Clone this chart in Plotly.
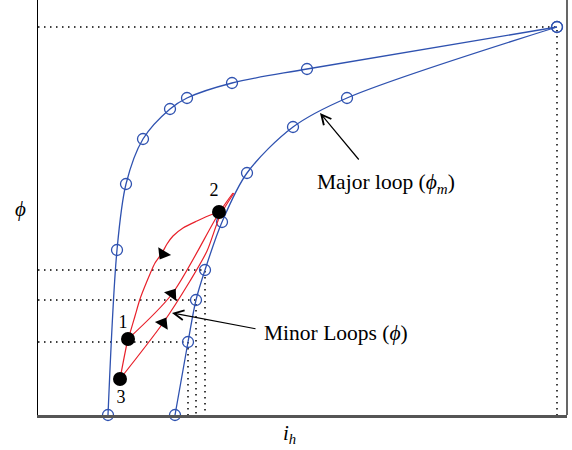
import plotly.graph_objects as go

# ---- data (schematic units: i_h along x, phi along y) ----
major_desc_i = [70, 79, 88, 105, 132, 149, 194, 269, 519]
major_desc_phi = [0, 165, 231, 276, 306, 317, 332, 346, 388]

major_asc_i = [137, 150, 158, 167, 184, 209, 255, 309, 519]
major_asc_phi = [0, 73, 115, 145, 193, 242, 288, 317, 388]

minor_down_i = [181, 175, 159, 145, 135, 129, 124, 117, 112, 107, 102, 97, 92, 90, 82]
minor_down_phi = [203, 201, 194, 187, 179, 171, 162, 152, 141, 129, 116, 99, 82, 76, 36]

minor_up1_i = [90, 134, 181, 195]
minor_up1_phi = [76, 121, 202, 222]

minor_up3_i = [82, 125, 152, 169, 182, 196]
minor_up3_phi = [36, 92, 134, 164, 199, 222]

point_i = [90, 181, 82]
point_phi = [76, 203, 36]
point_labels = ["1", "2", "3"]
label_i = [85, 176, 83]
label_phi = [92, 224, 17]

arrow_i = [125, 134, 125]
arrow_phi = [161, 121, 92]
arrow_angle = [211, 35, 31]

# dotted guide indices on ascending branch and the tip
guide_idx = [1, 2, 3]
tip_i, tip_phi = major_desc_i[-1], major_desc_phi[-1]

BLUE = "#2f52b0"
RED = "#e8202a"
SERIF = "Liberation Serif, Times New Roman, serif"
PHI = "\u03d5"

fig = go.Figure()

dot_line = dict(color="black", width=1.5, dash="1.5px,4.5px")
# dotted guides
fig.add_trace(go.Scatter(x=[0, tip_i, tip_i], y=[tip_phi, tip_phi, 0], mode="lines",
                         line=dot_line, hoverinfo="skip", showlegend=False))
for k in guide_idx:
    xi, yi = major_asc_i[k], major_asc_phi[k]
    fig.add_trace(go.Scatter(x=[0, xi, xi], y=[yi, yi, 0], mode="lines",
                             line=dot_line, hoverinfo="skip", showlegend=False))

# major loop
for xs, ys in [(major_desc_i, major_desc_phi), (major_asc_i, major_asc_phi)]:
    fig.add_trace(go.Scatter(x=xs, y=ys, mode="lines+markers",
                             line=dict(color=BLUE, width=1.3, shape="spline", smoothing=0.9),
                             marker=dict(symbol="circle-open", size=11, color=BLUE,
                                         line=dict(width=1.3, color=BLUE)),
                             cliponaxis=False, showlegend=False))

# minor loops
for xs, ys in [(minor_down_i, minor_down_phi), (minor_up1_i, minor_up1_phi),
               (minor_up3_i, minor_up3_phi)]:
    fig.add_trace(go.Scatter(x=xs, y=ys, mode="lines",
                             line=dict(color=RED, width=1.2, shape="spline", smoothing=0.8),
                             showlegend=False))

# direction arrows
fig.add_trace(go.Scatter(x=arrow_i, y=arrow_phi, mode="markers",
                         marker=dict(symbol="triangle-up", size=13, color="black",
                                     angle=arrow_angle, line=dict(width=0)),
                         showlegend=False))

# turning points
fig.add_trace(go.Scatter(x=point_i, y=point_phi, mode="markers",
                         marker=dict(symbol="circle", size=14, color="black"),
                         showlegend=False))
fig.add_trace(go.Scatter(x=label_i, y=label_phi, mode="text", text=point_labels,
                         textfont=dict(family=SERIF, size=18, color="black"),
                         showlegend=False, cliponaxis=False))

annotations = [
    dict(x=348, y=232, xref="x", yref="y",
         text="Major loop (<i>" + PHI + "</i><sub><i>m</i></sub>)",
         showarrow=False, font=dict(family=SERIF, size=21.5, color="black")),
    dict(x=282, y=302, ax=322, ay=254, xref="x", yref="y", axref="x", ayref="y",
         text="", showarrow=True, arrowhead=5, arrowsize=1.6, arrowwidth=1.2,
         arrowcolor="black"),
    dict(x=224, y=82, xref="x", yref="y", xanchor="left",
         text="Minor Loops (<i>" + PHI + "</i>)",
         showarrow=False, font=dict(family=SERIF, size=21.5, color="black")),
    dict(x=134, y=102, ax=219, ay=86, xref="x", yref="y", axref="x", ayref="y",
         text="", showarrow=True, arrowhead=5, arrowsize=1.6, arrowwidth=1.2,
         arrowcolor="black"),
    dict(x=-0.047, y=0.496, xref="paper", yref="paper", text="<i>" + PHI + "</i>",
         showarrow=False, font=dict(family=SERIF, size=21, color="black")),
    dict(x=0.476, y=-0.082, xref="paper", yref="paper",
         text="<i>i</i><sub><i>h</i></sub>",
         showarrow=False, font=dict(family=SERIF, size=21, color="black")),
]

fig.update_layout(
    width=572, height=450,
    margin=dict(l=38, r=5, t=0, b=35, autoexpand=False),
    paper_bgcolor="white", plot_bgcolor="white",
    xaxis=dict(range=[0, 529], showgrid=False, zeroline=False, showticklabels=False,
               ticks="", showline=True, linecolor="#555555", linewidth=2.5),
    yaxis=dict(range=[0, 415], showgrid=False, zeroline=False, showticklabels=False,
               ticks="", showline=True, linecolor="black", linewidth=1.2),
    annotations=annotations,
    shapes=[dict(type="line", xref="paper", yref="paper", x0=1, x1=1, y0=0, y1=1,
                 line=dict(color="black", width=1.2))],
    showlegend=False,
)

fig.write_html("out.html", config={"displayModeBar": False},
               post_script="document.body.style.margin='0';")
